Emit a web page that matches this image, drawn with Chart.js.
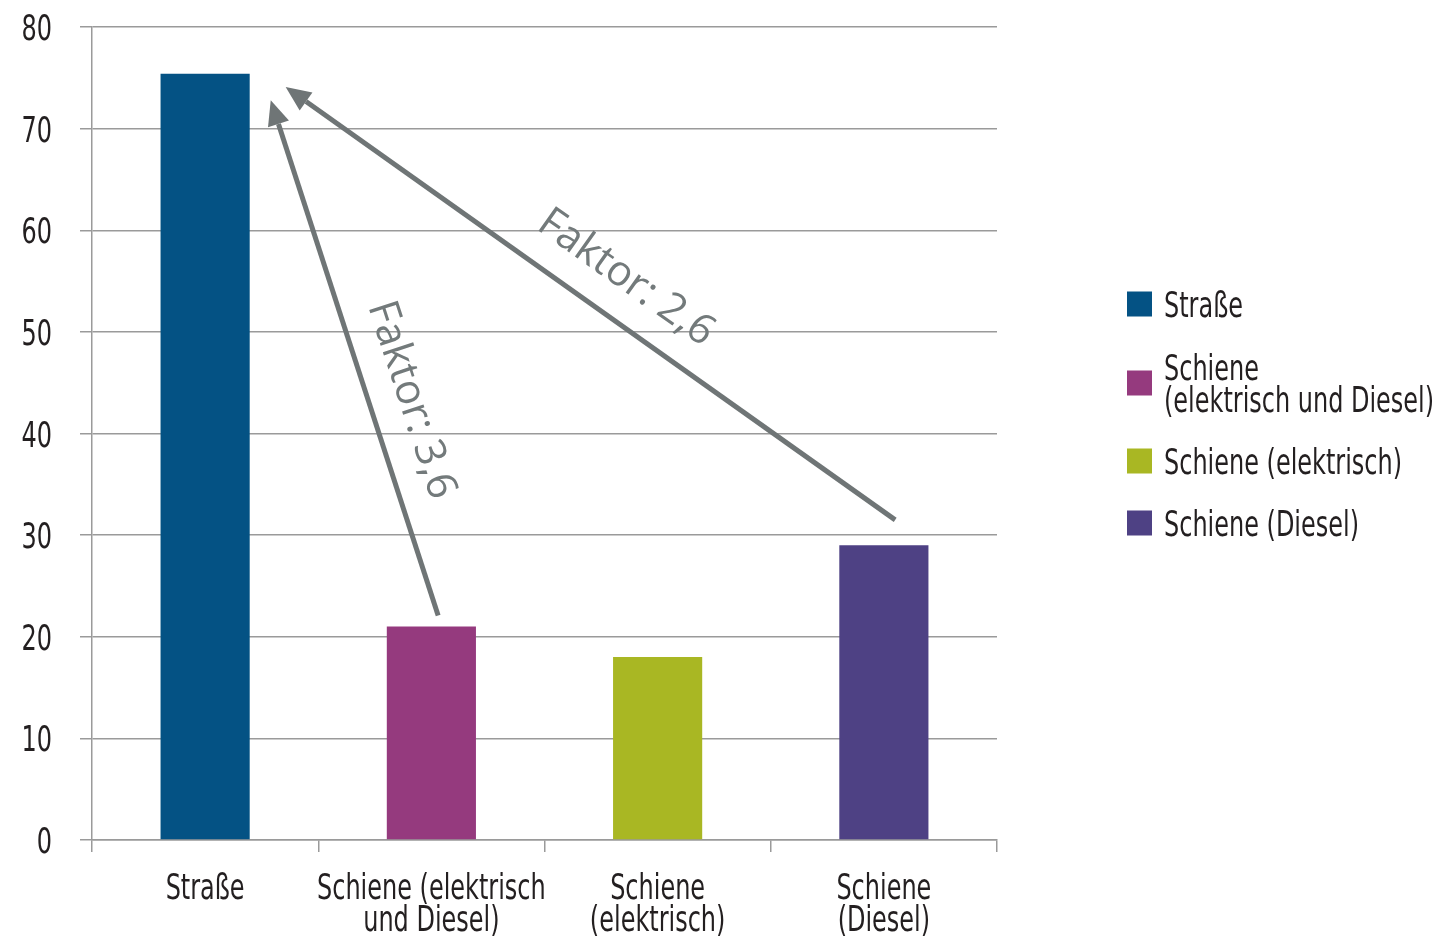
<!DOCTYPE html>
<html>
<head>
<meta charset="utf-8">
<script src="https://cdn.jsdelivr.net/npm/chart.js@4.4.1/dist/chart.umd.min.js"></script>
<style>
    body { margin: 0; background: #fff; }
</style>
</head>
<body>
<canvas id="chart" width="1447" height="940"></canvas>
<script>
const categoryLabels = [['Straße'], ['Schiene (elektrisch', 'und Diesel)'], ['Schiene', '(elektrisch)'], ['Schiene', '(Diesel)']];
const legendLabels = [['Straße'], ['Schiene', '(elektrisch und Diesel)'], ['Schiene (elektrisch)'], ['Schiene (Diesel)']];
const values = [75.4, 21.0, 18.0, 29.0];
const barColors = ['#045284', '#953a7e', '#a9b723', '#4e4184'];

// arrows: category position (fractional index) and value at base and tip
const arrowBaseX = [1.03, 3.05];
const arrowBaseY = [22.1, 31.5];
const arrowTipX = [0.29, 0.356];
const arrowTipY = [72.8, 74.1];
const arrowLabels = ['Faktor: 3,6', 'Faktor: 2,6'];
const arrowLabelX = [0.91, 1.86];
const arrowLabelY = [43.3, 55.3];

// condensed look: DejaVu Sans Condensed squeezed a bit more
const textFont = "36px 'DejaVu Sans Condensed', 'DejaVu Sans', sans-serif";
const squeeze = 0.74;
const textColor = '#231f20';
const gridColor = '#9a9a9a';

function drawSqueezed(ctx, text, x, y, align) {
    ctx.save();
    ctx.translate(x, y);
    ctx.scale(squeeze, 1);
    ctx.textAlign = align;
    ctx.fillText(text, 0, 0);
    ctx.restore();
}

const labelPlugin = {
    id: 'labels',
    afterDraw(chart) {
        const ctx = chart.ctx;
        const xs = chart.scales.x;
        const ys = chart.scales.y;
        ctx.save();
        ctx.font = textFont;
        ctx.fillStyle = textColor;
        ctx.textBaseline = 'alphabetic';

        // y tick labels
        ys.ticks.forEach(t => {
            drawSqueezed(ctx, String(t.value), xs.left - 40, ys.getPixelForValue(t.value) + 13, 'right');
        });

        // category labels
        categoryLabels.forEach((lines, i) => {
            const x = xs.getPixelForTick(i);
            lines.forEach((line, j) => {
                drawSqueezed(ctx, line, x, ys.bottom + 59 + j * 32, 'center');
            });
        });

        // legend
        const legendCenters = [304, 383, 461, 523];
        legendLabels.forEach((lines, i) => {
            const cy = legendCenters[i];
            ctx.fillStyle = barColors[i];
            ctx.fillRect(1127, cy - 12.5, 25, 25);
            ctx.fillStyle = textColor;
            const first = cy + 13 - (lines.length - 1) * 16;
            lines.forEach((line, j) => {
                drawSqueezed(ctx, line, 1164, first + j * 32, 'left');
            });
        });
        ctx.restore();
    }
};

const arrowPlugin = {
    id: 'arrows',
    afterDatasetsDraw(chart) {
        const ctx = chart.ctx;
        const xs = chart.scales.x;
        const ys = chart.scales.y;
        ctx.save();
        arrowLabels.forEach((label, i) => {
            const bx = xs.getPixelForValue(arrowBaseX[i]);
            const by = ys.getPixelForValue(arrowBaseY[i]);
            const tx = xs.getPixelForValue(arrowTipX[i]);
            const ty = ys.getPixelForValue(arrowTipY[i]);
            const ang = Math.atan2(by - ty, bx - tx);
            const headLen = 25, headW = 11;
            const hx = tx + Math.cos(ang) * headLen;
            const hy = ty + Math.sin(ang) * headLen;

            ctx.strokeStyle = '#6f7576';
            ctx.fillStyle = '#6f7576';
            ctx.lineWidth = 5;
            ctx.beginPath();
            ctx.moveTo(bx, by);
            ctx.lineTo(hx, hy);
            ctx.stroke();

            ctx.beginPath();
            ctx.moveTo(tx, ty);
            ctx.lineTo(hx + Math.sin(ang) * headW, hy - Math.cos(ang) * headW);
            ctx.lineTo(hx - Math.sin(ang) * headW, hy + Math.cos(ang) * headW);
            ctx.closePath();
            ctx.fill();

            const lx = xs.getPixelForValue(arrowLabelX[i]);
            const ly = ys.getPixelForValue(arrowLabelY[i]);
            ctx.save();
            ctx.translate(lx, ly);
            ctx.rotate(ang);
            ctx.font = "42px 'Open Sans', sans-serif";
            ctx.fillStyle = '#737a7b';
            ctx.textAlign = 'center';
            ctx.textBaseline = 'middle';
            ctx.fillText(label, 0, 0);
            ctx.restore();
        });
        ctx.restore();
    }
};

new Chart(document.getElementById('chart'), {
    type: 'bar',
    data: {
        labels: categoryLabels.map(l => l.join(' ')),
        datasets: [{
            data: values,
            backgroundColor: barColors,
            barPercentage: 0.394,
            categoryPercentage: 1
        }]
    },
    options: {
        responsive: false,
        animation: false,
        layout: { padding: { top: 27, right: 450, left: 0, bottom: 0 } },
        plugins: {
            legend: { display: false },
            tooltip: { enabled: false }
        },
        scales: {
            x: {
                afterFit(scale) { scale.height = 100; },
                grid: {
                    offset: true,
                    drawOnChartArea: false,
                    drawTicks: true,
                    tickLength: 12,
                    color: gridColor,
                    lineWidth: 1.5
                },
                border: { color: gridColor, width: 1.5 },
                ticks: { display: false, autoSkip: false }
            },
            y: {
                min: 0,
                max: 80,
                afterFit(scale) { scale.width = 92; },
                grid: {
                    color: gridColor,
                    lineWidth: 1.5,
                    tickLength: 12
                },
                border: { color: gridColor, width: 1.5 },
                ticks: { display: false, stepSize: 10 }
            }
        }
    },
    plugins: [arrowPlugin, labelPlugin]
});
</script>
</body>
</html>
